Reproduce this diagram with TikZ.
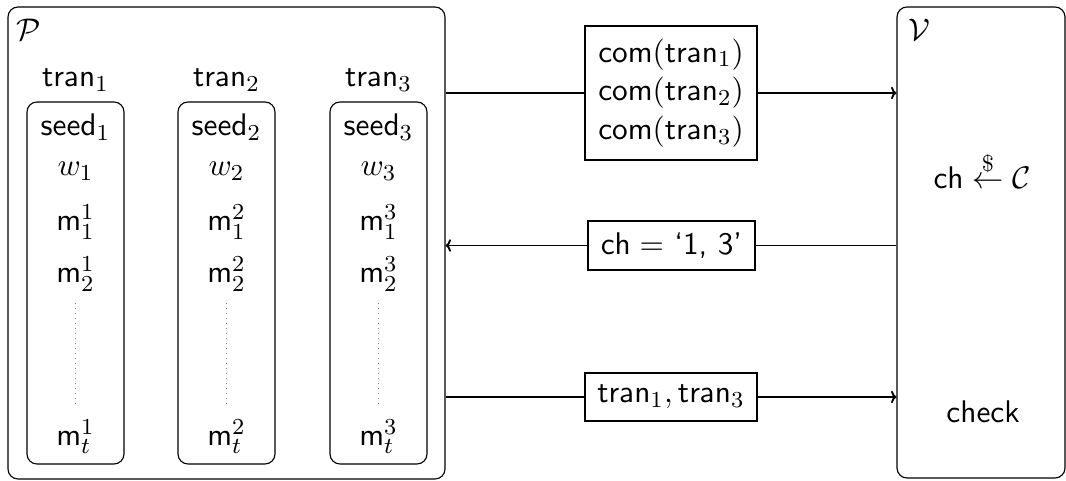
\documentclass[tikz,border=0pt]{standalone}
\usepackage{amsmath}
\usetikzlibrary{arrows.meta}
\begin{document}
\begin{tikzpicture}[x=0.35pt, y=-0.35pt,
  font=\fontsize{10.95}{13.5}\selectfont\sffamily,
  party/.style={draw, rounded corners=3.5pt, line width=0.4pt, inner sep=0pt},
  column/.style={draw, rounded corners=3.5pt, line width=0.4pt, inner sep=0pt, minimum width=33.95pt, minimum height=126.7pt},
  msg/.style={draw, line width=0.65pt, inner sep=0pt, align=center},
  flow/.style={line width=0.65pt},
  tip/.style={-{To[length=1.9pt, width=4.4pt]}},
  txt/.style={inner sep=0pt, anchor=base},
  gap/.style={line width=0.35pt, gray, dash pattern=on 0.35pt off 1.4pt}]
\useasboundingbox (0,0) rectangle (1066,481);

% prover and verifier
\node[party, minimum width=152.95pt, minimum height=165.2pt] (P) at (226.5,243) {};
\node[party, minimum width=58.8pt, minimum height=164.85pt] (V) at (981,242.5) {};
\node[inner sep=0pt] (Plab) at (29,30) {$\mathcal{P}$};
\node[inner sep=0pt] (Vlab) at (919,30) {$\mathcal{V}$};

% the three transcripts
\foreach \i/\x in {1/75.5, 2/226.5, 3/378.5} {
  \node[txt] (tr\i) at (\x,87) {$\mathsf{tran}_{\i}$};
  \node[column] (c\i) at (\x,283) {};
  \node[txt] (seed\i) at (\x,136) {$\mathsf{seed}_{\i}$};
  \node[txt] (w\i) at (\x,176) {$w_{\i}$};
  \node[txt] (ma\i) at (\x,231) {$\mathsf{m}_1^{\i}$};
  \node[txt] (mb\i) at (\x,283) {$\mathsf{m}_2^{\i}$};
  \node[txt] (mt\i) at (\x,446) {$\mathsf{m}_t^{\i}$};
  \coordinate (gs\i) at (\x,303);
  \coordinate (ge\i) at (\x,407);
  \draw[gap] (gs\i) -- (ge\i);
}

% verifier side
\node[txt] (chal) at (982,189) {$\mathsf{ch} \stackrel{\$}{\leftarrow} \mathcal{C}$};
\node[txt] (chk) at (983,423) {check};

% messages
\node[msg, minimum width=60.2pt, minimum height=46.9pt] (mA) at (671,93)
  {$\mathsf{com}(\mathsf{tran}_1)$\\ $\mathsf{com}(\mathsf{tran}_2)$\\ $\mathsf{com}(\mathsf{tran}_3)$};
\node[msg, minimum width=58.45pt, minimum height=17.15pt] (mB) at (671.5,245.5)
  {$\mathsf{ch} =$ `1, 3'};
\node[msg, minimum width=60.2pt, minimum height=16.8pt] (mC) at (671,397)
  {$\mathsf{tran}_1, \mathsf{tran}_3$};

\draw[flow] (P.east |- mA.west) -- (mA.west);
\draw[flow, tip] (mA.east) -- (V.west |- mA.east);
\draw[flow] (V.west |- mB.east) -- (mB.east);
\draw[flow, tip] (mB.west) -- (P.east |- mB.west);
\draw[flow] (P.east |- mC.west) -- (mC.west);
\draw[flow, tip] (mC.east) -- (V.west |- mC.east);
\end{tikzpicture}
\end{document}
